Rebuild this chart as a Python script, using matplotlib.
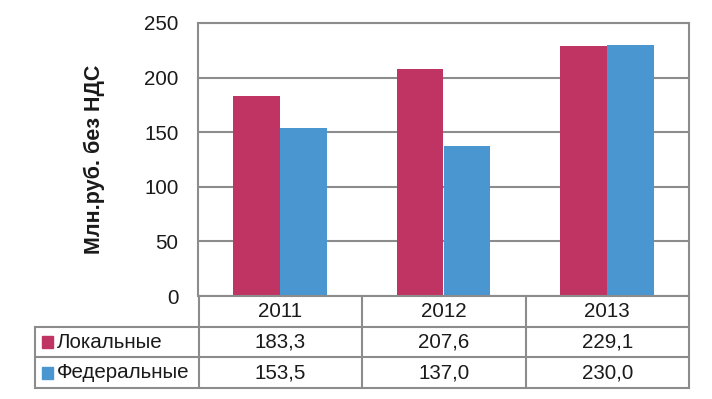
import matplotlib.pyplot as plt
from matplotlib.patches import Rectangle

plt.rcParams['font.family'] = ['Liberation Sans', 'DejaVu Sans']

years = ['2011', '2012', '2013']
series_names = ['Локальные', 'Федеральные']
local_vals = [183.3, 207.6, 229.1]
federal_vals = [153.5, 137.0, 230.0]
colors = ['#BF3462', '#4A96D1']
grid_col = '#8C8C8C'
txt_col = '#1a1a1a'
fs = 14.8

W, H = 712, 399
fig = plt.figure(figsize=(W / 100, H / 100), dpi=100)

# main bar area
ax = fig.add_axes([198 / W, 1 - 296 / H, (689 - 198) / W, (296 - 23) / H])
x = list(range(len(years)))
bw = 0.287
ax.bar([i - bw / 2 for i in x], local_vals, width=bw, color=colors[0], zorder=3)
ax.bar([i + bw / 2 for i in x], federal_vals, width=bw, color=colors[1], zorder=3)
ax.set_xlim(-0.5, 2.5)
ax.set_ylim(0, 250)
ax.set_yticks(range(0, 251, 50))
ax.set_xticks([])
ax.tick_params(axis='y', length=0, pad=14, labelsize=fs, colors=txt_col)
ax.yaxis.grid(True, color=grid_col, linewidth=1.5, zorder=0)
for s in ['left', 'right', 'top']:
    ax.spines[s].set_color(grid_col)
    ax.spines[s].set_linewidth(1.5)
ax.spines['bottom'].set_visible(False)
ax.set_ylabel('Млн.руб. без НДС', fontsize=15.5, fontweight='bold',
              labelpad=28, color=txt_col)

# data table under the chart
tx = fig.add_axes([35 / W, 1 - 388 / H, (689 - 35) / W, (388 - 296) / H])
tx.set_xlim(-1.5, 2.5)
tx.set_ylim(3, 0)
tx.axis('off')
lk = dict(color=grid_col, linewidth=1.5, clip_on=False)
# horizontal lines
tx.plot([-0.5, 2.5], [0, 0], **lk)
for r in [1, 2, 3]:
    tx.plot([-1.5, 2.5], [r, r], **lk)
# vertical lines
for c in [-0.5, 0.5, 1.5, 2.5]:
    tx.plot([c, c], [0, 3], **lk)
tx.plot([-1.5, -1.5], [1, 3], **lk)

for i, y in enumerate(years):
    tx.text(i, 0.5, y, ha='center', va='center', fontsize=fs, color=txt_col)
rows = [local_vals, federal_vals]
for r, (name, vals) in enumerate(zip(series_names, rows)):
    yc = r + 1.5
    tx.add_patch(Rectangle((-1.46, yc - 0.18), 0.068, 0.38, color=colors[r]))
    tx.text(-1.365, yc, name, ha='left', va='center', fontsize=fs, color=txt_col)
    for i, v in enumerate(vals):
        tx.text(i, yc, f'{v:.1f}'.replace('.', ','), ha='center', va='center',
                fontsize=fs, color=txt_col)

fig.savefig('out.png', dpi=100)
